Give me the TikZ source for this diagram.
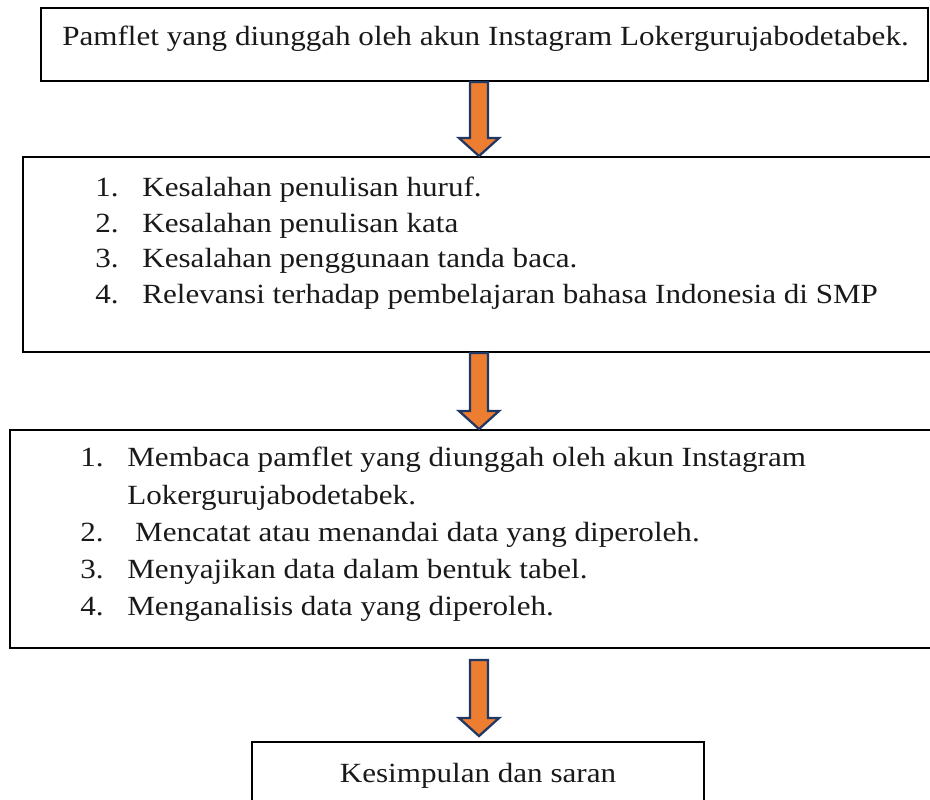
\documentclass[tikz,border=0pt]{standalone}
\usepackage{fontspec}
\setmainfont{Liberation Serif}[FakeStretch=1.12]
\usepackage{tikz}
\usetikzlibrary{calc,fit}
\definecolor{flame}{HTML}{ED7D31}
\definecolor{navy}{HTML}{1F3864}
\tikzset{
  box/.style={draw=black, line width=1.1pt, inner sep=0pt},
  txt/.style={font=\fontsize{15.8}{19}\selectfont, text=black!90, anchor=base west, inner sep=0pt},
  flowarrow/.style={draw=navy, fill=flame, line width=1.3pt, line join=miter,
    to path={let \p1=(\tikztostart), \p2=(\tikztotarget) in
      (\x1-0.18cm,\y1) -- (\x1+0.18cm,\y1) -- (\x1+0.18cm,\y2+0.36cm) -- (\x1+0.4cm,\y2+0.36cm)
      -- (\x1,\y2) -- (\x1-0.4cm,\y2+0.36cm) -- (\x1-0.18cm,\y2+0.36cm) -- cycle}}
}
\begin{document}
\begin{tikzpicture}[x=0.02cm,y=-0.02cm]
  \useasboundingbox (0,0) rectangle (930,800);
  \clip (0,0) rectangle (930,800);
  \coordinate (ax) at (479,0);

  % boxes
  \node[box, fit={(41,8) (928,81)}] (pamflet) {};
  \node[box, fit={(23,157) (960,352)}] (masalah) {};
  \node[box, fit={(10,430) (960,648)}] (metode) {};
  \node[box, fit={(252,742) (704,830)}] (simpul) {};

  % texts
  \node[txt, anchor=base] (pamflettext) at (485.5,46) {Pamflet yang diunggah oleh akun Instagram Lokergurujabodetabek.};
  \foreach \i/\n in {
     1/{Kesalahan penulisan huruf.},
     2/{Kesalahan penulisan kata},
     3/{Kesalahan penggunaan tanda baca.},
     4/{Relevansi terhadap pembelajaran bahasa Indonesia di SMP}}
  {
    \node[txt] (masnum\i) at (95,{197+(\i-1)*35.5}) {\i.};
    \node[txt] (masitem\i) at (142,{197+(\i-1)*35.5}) {\n};
  }
  \foreach \i/\k/\n in {
     0/{1.}/{Membaca pamflet yang diunggah oleh akun Instagram},
     1/{}/{Lokergurujabodetabek.},
     2/{2.}/{\ Mencatat atau menandai data yang diperoleh.},
     3/{3.}/{Menyajikan data dalam bentuk tabel.},
     4/{4.}/{Menganalisis data yang diperoleh.}}
  {
    \node[txt] (metnum\i) at (80,{467+\i*37}) {\k};
    \node[txt] (metitem\i) at (127,{467+\i*37}) {\n};
  }
  \node[txt, anchor=base] (simpultext) at (478,782) {Kesimpulan dan saran};

  % arrows
  \draw[flowarrow] (pamflet.south -| ax) to (masalah.north -| ax);
  \draw[flowarrow] (masalah.south -| ax) to (metode.north -| ax);
  \draw[flowarrow] ([yshift=-0.22cm]metode.south -| ax) to ([yshift=0.1cm]simpul.north -| ax);
\end{tikzpicture}
\end{document}
